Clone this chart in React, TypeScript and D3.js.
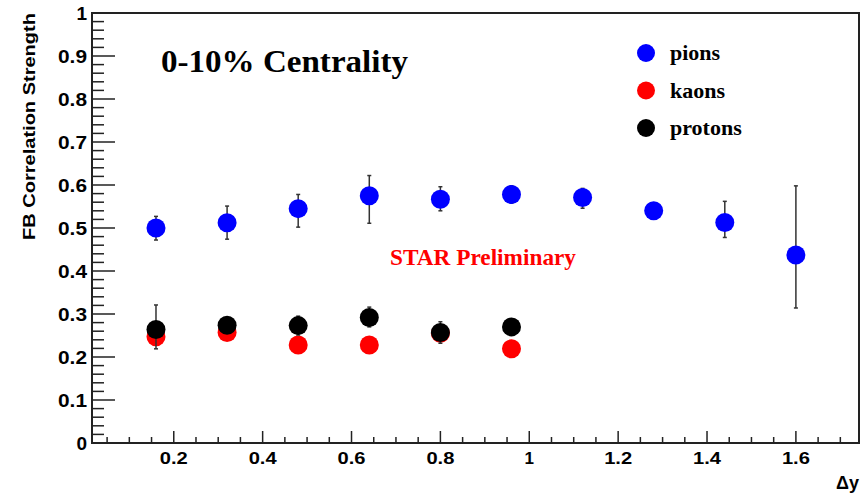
import React, { useRef, useEffect } from 'react';
import * as d3 from 'd3';

const dyValues = [0.16, 0.32, 0.48, 0.64, 0.8, 0.96, 1.12, 1.28, 1.44, 1.6];

const pionValues = [0.5, 0.512, 0.545, 0.575, 0.567, 0.578, 0.571, 0.54, 0.513, 0.437];
const pionErrLow = [0.028, 0.038, 0.043, 0.064, 0.027, 0.02, 0.025, 0.01, 0.035, 0.123];
const pionErrHigh = [0.027, 0.039, 0.033, 0.047, 0.029, 0.02, 0.021, 0.01, 0.049, 0.161];

const kaonValues = [0.247, 0.257, 0.228, 0.228, 0.255, 0.219];
const kaonErr = [0.01, 0.01, 0.008, 0.008, 0.01, 0.008];

const protonValues = [0.264, 0.274, 0.273, 0.292, 0.257, 0.27];
const protonErrLow = [0.045, 0.008, 0.022, 0.022, 0.025, 0.01];
const protonErrHigh = [0.057, 0.008, 0.022, 0.024, 0.025, 0.01];

const yTicks = [0, 0.1, 0.2, 0.3, 0.4, 0.5, 0.6, 0.7, 0.8, 0.9, 1];
const xTicks = [0.2, 0.4, 0.6, 0.8, 1.0, 1.2, 1.4, 1.6];

const legendItems = [
  { name: 'pions', color: '#0000ff' },
  { name: 'kaons', color: '#ff0000' },
  { name: 'protons', color: '#000000' },
];

interface Point {
  x: number;
  y: number;
  lo: number;
  hi: number;
}

const FBChart: React.FC<{ width: number; height: number }> = ({ width, height }) => {
  const svgRef = useRef<SVGSVGElement | null>(null);

  useEffect(() => {
    const svg = d3.select(svgRef.current)
      .attr('width', width)
      .attr('height', height)
      .style('background', '#ffffff');

    const left = 92, right = 859, top = 13, bottom = 443;

    const x = d3.scaleLinear().domain([0.016, 1.742]).range([left, right]);
    const y = d3.scaleLinear().domain([0, 1]).range([bottom, top]);

    const sans = 'Liberation Sans, Arial, sans-serif';
    const serif = 'Liberation Serif, Times New Roman, serif';

    // y ticks: major 0.1, minor 0.02
    const yMinor = d3.range(0, 51).map(i => i * 0.02);
    svg.append('g')
      .selectAll('line')
      .data(yMinor)
      .enter()
      .append('line')
      .attr('x1', left)
      .attr('x2', (d, i) => left + (i % 5 === 0 ? 23 : 12))
      .attr('y1', d => y(d))
      .attr('y2', d => y(d))
      .attr('stroke', '#222')
      .attr('stroke-width', 1.5);

    const yLabels = svg.append('g')
      .selectAll('text')
      .data(yTicks)
      .enter()
      .append('text')
      .attr('x', 87)
      .attr('y', d => y(d))
      .attr('dy', '0.36em')
      .attr('text-anchor', 'end')
      .style('font-family', sans)
      .style('font-weight', 'bold')
      .style('font-size', '19px')
      .text(d => (d === 0 || d === 1 ? String(d) : d.toFixed(1)));
    yLabels.filter(d => d !== 0 && d !== 1)
      .attr('textLength', 29)
      .attr('lengthAdjust', 'spacingAndGlyphs');

    // x ticks: major 0.2, minor 0.05
    const xMinor = d3.range(1, 35).map(i => i * 0.05);
    svg.append('g')
      .selectAll('line')
      .data(xMinor)
      .enter()
      .append('line')
      .attr('x1', d => x(d))
      .attr('x2', d => x(d))
      .attr('y1', bottom)
      .attr('y2', (d, i) => bottom - ((i + 1) % 4 === 0 ? 12 : 6))
      .attr('stroke', '#222')
      .attr('stroke-width', 1.5);

    const xLabels = svg.append('g')
      .selectAll('text')
      .data(xTicks)
      .enter()
      .append('text')
      .attr('x', d => x(d))
      .attr('y', 464)
      .attr('text-anchor', 'middle')
      .style('font-family', sans)
      .style('font-weight', 'bold')
      .style('font-size', '17px')
      .text(d => (d === 1 ? '1' : d.toFixed(1)));
    xLabels.filter(d => d !== 1)
      .attr('textLength', 28)
      .attr('lengthAdjust', 'spacingAndGlyphs');

    // frame
    svg.append('rect')
      .attr('x', left)
      .attr('y', top)
      .attr('width', right - left)
      .attr('height', bottom - top)
      .attr('fill', 'none')
      .attr('stroke', '#222')
      .attr('stroke-width', 2);

    // axis titles
    svg.append('text')
      .attr('transform', 'translate(35,240) rotate(-90)')
      .attr('textLength', 227)
      .attr('lengthAdjust', 'spacingAndGlyphs')
      .style('font-family', sans)
      .style('font-weight', 'bold')
      .style('font-size', '17px')
      .text('FB Correlation Strength');

    svg.append('text')
      .attr('x', 859)
      .attr('y', 489)
      .attr('text-anchor', 'end')
      .style('font-family', sans)
      .style('font-weight', 'bold')
      .style('font-size', '18px')
      .text('Δy');

    // annotations
    svg.append('text')
      .attr('x', 161)
      .attr('y', 72)
      .attr('textLength', 247)
      .attr('lengthAdjust', 'spacingAndGlyphs')
      .style('font-family', serif)
      .style('font-weight', 'bold')
      .style('font-size', '32px')
      .text('0-10% Centrality');

    svg.append('text')
      .attr('x', 390)
      .attr('y', 265)
      .attr('textLength', 186)
      .attr('lengthAdjust', 'spacingAndGlyphs')
      .attr('fill', '#ff0000')
      .style('font-family', serif)
      .style('font-weight', 'bold')
      .style('font-size', '23px')
      .text('STAR Preliminary');

    // data series
    const series: { color: string; points: Point[] }[] = [
      {
        color: '#0000ff',
        points: pionValues.map((v, i) => ({ x: dyValues[i], y: v, lo: pionErrLow[i], hi: pionErrHigh[i] })),
      },
      {
        color: '#ff0000',
        points: kaonValues.map((v, i) => ({ x: dyValues[i], y: v, lo: kaonErr[i], hi: kaonErr[i] })),
      },
      {
        color: '#000000',
        points: protonValues.map((v, i) => ({ x: dyValues[i], y: v, lo: protonErrLow[i], hi: protonErrHigh[i] })),
      },
    ];

    series.forEach(s => {
      const g = svg.append('g');
      g.selectAll('line.err')
        .data(s.points)
        .enter()
        .append('line')
        .attr('x1', d => x(d.x))
        .attr('x2', d => x(d.x))
        .attr('y1', d => y(d.y - d.lo))
        .attr('y2', d => y(d.y + d.hi))
        .attr('stroke', '#333')
        .attr('stroke-width', 1.5);
      g.selectAll('line.capLo')
        .data(s.points)
        .enter()
        .append('line')
        .attr('x1', d => x(d.x) - 2)
        .attr('x2', d => x(d.x) + 2)
        .attr('y1', d => y(d.y - d.lo))
        .attr('y2', d => y(d.y - d.lo))
        .attr('stroke', '#333')
        .attr('stroke-width', 1.5);
      g.selectAll('line.capHi')
        .data(s.points)
        .enter()
        .append('line')
        .attr('x1', d => x(d.x) - 2)
        .attr('x2', d => x(d.x) + 2)
        .attr('y1', d => y(d.y + d.hi))
        .attr('y2', d => y(d.y + d.hi))
        .attr('stroke', '#333')
        .attr('stroke-width', 1.5);
      g.selectAll('circle')
        .data(s.points)
        .enter()
        .append('circle')
        .attr('cx', d => x(d.x))
        .attr('cy', d => y(d.y))
        .attr('r', 9.5)
        .attr('fill', s.color);
    });

    // legend
    const legend = svg.append('g');
    legend.selectAll('circle')
      .data(legendItems)
      .enter()
      .append('circle')
      .attr('cx', 646)
      .attr('cy', (d, i) => 53 + i * 37.5)
      .attr('r', 9)
      .attr('fill', d => d.color);
    legend.selectAll('text')
      .data(legendItems)
      .enter()
      .append('text')
      .attr('x', 670)
      .attr('y', (d, i) => 60 + i * 37.5)
      .style('font-family', serif)
      .style('font-weight', 'bold')
      .style('font-size', '22px')
      .text(d => d.name);

    return () => {
      svg.selectAll('*').remove();
    };
  }, [width, height]);

  return <svg ref={svgRef} style={{ position: 'absolute', left: 0, top: 0 }}></svg>;
};

export default function App() {
  return <FBChart width={861} height={495} />;
}
